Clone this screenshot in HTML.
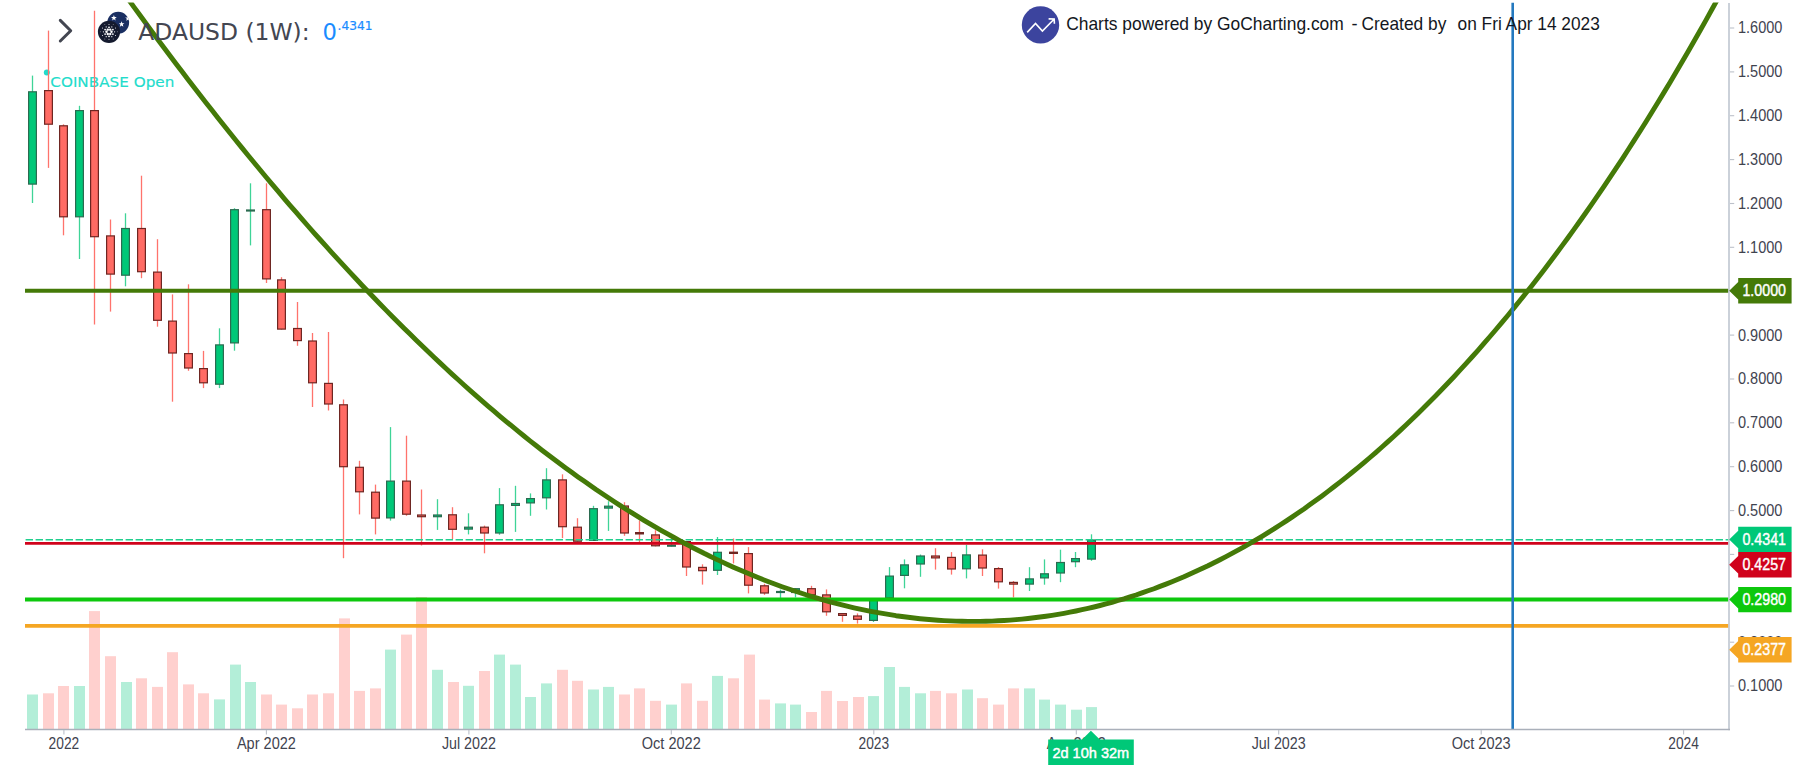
<!DOCTYPE html>
<html lang="en"><head><meta charset="utf-8"><title>ADAUSD (1W) chart</title>
<style>html,body{margin:0;padding:0;background:#fff;overflow:hidden}svg{display:block}</style></head>
<body>
<svg width="1797" height="771" viewBox="0 0 1797 771">
<defs><clipPath id="plot"><rect x="25" y="2.6" width="1704" height="727"/></clipPath></defs>
<rect x="0" y="0" width="1797" height="771" fill="#ffffff"/>
<g id="volume">
<rect x="27" y="694.5" width="11" height="34.8" fill="#b3eed8"/>
<rect x="43" y="693.3" width="11" height="36.0" fill="#ffd0ce"/>
<rect x="58" y="686.0" width="11" height="43.3" fill="#ffd0ce"/>
<rect x="74" y="686.0" width="11" height="43.3" fill="#b3eed8"/>
<rect x="89" y="611.1" width="11" height="118.2" fill="#ffd0ce"/>
<rect x="105" y="656.2" width="11" height="73.1" fill="#ffd0ce"/>
<rect x="121" y="682.0" width="11" height="47.3" fill="#b3eed8"/>
<rect x="136" y="678.3" width="11" height="51.0" fill="#ffd0ce"/>
<rect x="152" y="686.9" width="11" height="42.4" fill="#ffd0ce"/>
<rect x="167" y="652.2" width="11" height="77.1" fill="#ffd0ce"/>
<rect x="183" y="684.4" width="11" height="44.9" fill="#ffd0ce"/>
<rect x="198" y="693.3" width="11" height="36.0" fill="#ffd0ce"/>
<rect x="214" y="699.4" width="11" height="29.9" fill="#b3eed8"/>
<rect x="230" y="664.6" width="11" height="64.7" fill="#b3eed8"/>
<rect x="245" y="682.0" width="11" height="47.3" fill="#b3eed8"/>
<rect x="261" y="694.5" width="11" height="34.8" fill="#ffd0ce"/>
<rect x="276" y="704.6" width="11" height="24.7" fill="#ffd0ce"/>
<rect x="292" y="708.3" width="11" height="21.0" fill="#ffd0ce"/>
<rect x="307" y="694.5" width="11" height="34.8" fill="#ffd0ce"/>
<rect x="323" y="693.3" width="11" height="36.0" fill="#ffd0ce"/>
<rect x="339" y="618.4" width="11" height="110.9" fill="#ffd0ce"/>
<rect x="354" y="690.9" width="11" height="38.4" fill="#ffd0ce"/>
<rect x="370" y="688.4" width="11" height="40.9" fill="#ffd0ce"/>
<rect x="385" y="649.6" width="11" height="79.7" fill="#b3eed8"/>
<rect x="401" y="634.6" width="11" height="94.7" fill="#ffd0ce"/>
<rect x="416" y="597.0" width="11" height="132.3" fill="#ffd0ce"/>
<rect x="432" y="669.8" width="11" height="59.5" fill="#b3eed8"/>
<rect x="448" y="682.0" width="11" height="47.3" fill="#ffd0ce"/>
<rect x="463" y="685.8" width="11" height="43.5" fill="#b3eed8"/>
<rect x="479" y="671.0" width="11" height="58.3" fill="#ffd0ce"/>
<rect x="494" y="654.6" width="11" height="74.7" fill="#b3eed8"/>
<rect x="510" y="664.6" width="11" height="64.7" fill="#b3eed8"/>
<rect x="525" y="697.0" width="11" height="32.3" fill="#b3eed8"/>
<rect x="541" y="683.4" width="11" height="45.9" fill="#b3eed8"/>
<rect x="557" y="669.8" width="11" height="59.5" fill="#ffd0ce"/>
<rect x="572" y="680.8" width="11" height="48.5" fill="#ffd0ce"/>
<rect x="588" y="689.5" width="11" height="39.8" fill="#b3eed8"/>
<rect x="603" y="686.9" width="11" height="42.4" fill="#b3eed8"/>
<rect x="619" y="694.5" width="11" height="34.8" fill="#ffd0ce"/>
<rect x="634" y="688.4" width="11" height="40.9" fill="#ffd0ce"/>
<rect x="650" y="700.8" width="11" height="28.5" fill="#ffd0ce"/>
<rect x="666" y="704.6" width="11" height="24.7" fill="#b3eed8"/>
<rect x="681" y="683.4" width="11" height="45.9" fill="#ffd0ce"/>
<rect x="697" y="700.8" width="11" height="28.5" fill="#ffd0ce"/>
<rect x="712" y="675.9" width="11" height="53.4" fill="#b3eed8"/>
<rect x="728" y="678.3" width="11" height="51.0" fill="#ffd0ce"/>
<rect x="744" y="654.6" width="11" height="74.7" fill="#ffd0ce"/>
<rect x="759" y="699.6" width="11" height="29.7" fill="#ffd0ce"/>
<rect x="775" y="703.4" width="11" height="25.9" fill="#b3eed8"/>
<rect x="790" y="704.6" width="11" height="24.7" fill="#b3eed8"/>
<rect x="806" y="712.0" width="11" height="17.3" fill="#ffd0ce"/>
<rect x="821" y="690.9" width="11" height="38.4" fill="#ffd0ce"/>
<rect x="837" y="701.0" width="11" height="28.3" fill="#ffd0ce"/>
<rect x="853" y="697.0" width="11" height="32.3" fill="#ffd0ce"/>
<rect x="868" y="696.1" width="11" height="33.2" fill="#b3eed8"/>
<rect x="884" y="667.0" width="11" height="62.3" fill="#b3eed8"/>
<rect x="899" y="686.9" width="11" height="42.4" fill="#b3eed8"/>
<rect x="915" y="693.3" width="11" height="36.0" fill="#b3eed8"/>
<rect x="930" y="690.9" width="11" height="38.4" fill="#ffd0ce"/>
<rect x="946" y="693.3" width="11" height="36.0" fill="#ffd0ce"/>
<rect x="962" y="689.5" width="11" height="39.8" fill="#b3eed8"/>
<rect x="977" y="698.2" width="11" height="31.1" fill="#ffd0ce"/>
<rect x="993" y="704.6" width="11" height="24.7" fill="#ffd0ce"/>
<rect x="1008" y="688.4" width="11" height="40.9" fill="#ffd0ce"/>
<rect x="1024" y="688.4" width="11" height="40.9" fill="#b3eed8"/>
<rect x="1039" y="699.6" width="11" height="29.7" fill="#b3eed8"/>
<rect x="1055" y="704.6" width="11" height="24.7" fill="#b3eed8"/>
<rect x="1071" y="709.7" width="11" height="19.6" fill="#b3eed8"/>
<rect x="1086" y="707.1" width="11" height="22.2" fill="#b3eed8"/>
</g>
<circle cx="46.8" cy="72.5" r="3" fill="#22dccb"/>
<text x="50.3" y="86.8" font-family='"DejaVu Sans", "Liberation Sans", sans-serif' font-size="14.8" fill="#22dccb" stroke="#22dccb" stroke-width="0.15" textLength="124" lengthAdjust="spacingAndGlyphs">COINBASE Open</text>
<g id="candles">
<line x1="32.50" y1="75.6" x2="32.50" y2="203.0" stroke="#3fd497" stroke-width="1.3"/>
<rect x="28.60" y="91.8" width="7.8" height="92.3" fill="#00c878" stroke="#2b6b50" stroke-width="1.2"/>
<line x1="48.50" y1="30.6" x2="48.50" y2="167.9" stroke="#ff736c" stroke-width="1.3"/>
<rect x="44.60" y="90.6" width="7.8" height="33.6" fill="#ff6b64" stroke="#6e2622" stroke-width="1.2"/>
<line x1="63.50" y1="124.3" x2="63.50" y2="235.3" stroke="#ff736c" stroke-width="1.3"/>
<rect x="59.60" y="125.8" width="7.8" height="91.0" fill="#ff6b64" stroke="#6e2622" stroke-width="1.2"/>
<line x1="79.50" y1="105.8" x2="79.50" y2="259.0" stroke="#3fd497" stroke-width="1.3"/>
<rect x="75.60" y="110.6" width="7.8" height="106.2" fill="#00c878" stroke="#2b6b50" stroke-width="1.2"/>
<line x1="94.50" y1="10.7" x2="94.50" y2="324.4" stroke="#ff736c" stroke-width="1.3"/>
<rect x="90.60" y="110.6" width="7.8" height="126.1" fill="#ff6b64" stroke="#6e2622" stroke-width="1.2"/>
<line x1="110.50" y1="219.5" x2="110.50" y2="311.6" stroke="#ff736c" stroke-width="1.3"/>
<rect x="106.60" y="235.9" width="7.8" height="38.2" fill="#ff6b64" stroke="#6e2622" stroke-width="1.2"/>
<line x1="125.50" y1="213.3" x2="125.50" y2="286.3" stroke="#3fd497" stroke-width="1.3"/>
<rect x="121.60" y="228.5" width="7.8" height="46.7" fill="#00c878" stroke="#2b6b50" stroke-width="1.2"/>
<line x1="141.50" y1="175.7" x2="141.50" y2="278.2" stroke="#ff736c" stroke-width="1.3"/>
<rect x="137.60" y="228.5" width="7.8" height="43.2" fill="#ff6b64" stroke="#6e2622" stroke-width="1.2"/>
<line x1="157.50" y1="239.2" x2="157.50" y2="326.7" stroke="#ff736c" stroke-width="1.3"/>
<rect x="153.60" y="272.1" width="7.8" height="48.2" fill="#ff6b64" stroke="#6e2622" stroke-width="1.2"/>
<line x1="172.50" y1="294.4" x2="172.50" y2="401.7" stroke="#ff736c" stroke-width="1.3"/>
<rect x="168.60" y="321.1" width="7.8" height="31.9" fill="#ff6b64" stroke="#6e2622" stroke-width="1.2"/>
<line x1="188.50" y1="284.3" x2="188.50" y2="370.8" stroke="#ff736c" stroke-width="1.3"/>
<rect x="184.60" y="353.6" width="7.8" height="14.4" fill="#ff6b64" stroke="#6e2622" stroke-width="1.2"/>
<line x1="203.50" y1="350.9" x2="203.50" y2="388.1" stroke="#ff736c" stroke-width="1.3"/>
<rect x="199.60" y="368.6" width="7.8" height="14.2" fill="#ff6b64" stroke="#6e2622" stroke-width="1.2"/>
<line x1="219.50" y1="328.3" x2="219.50" y2="388.1" stroke="#3fd497" stroke-width="1.3"/>
<rect x="215.60" y="344.9" width="7.8" height="39.3" fill="#00c878" stroke="#2b6b50" stroke-width="1.2"/>
<line x1="234.50" y1="208.2" x2="234.50" y2="350.7" stroke="#3fd497" stroke-width="1.3"/>
<rect x="230.60" y="209.7" width="7.8" height="133.2" fill="#00c878" stroke="#2b6b50" stroke-width="1.2"/>
<line x1="250.50" y1="183.3" x2="250.50" y2="245.4" stroke="#3fd497" stroke-width="1.3"/>
<rect x="246.00" y="209.4" width="9" height="2.2" fill="#2b6b50"/>
<line x1="266.50" y1="183.3" x2="266.50" y2="283.0" stroke="#ff736c" stroke-width="1.3"/>
<rect x="262.60" y="209.7" width="7.8" height="69.2" fill="#ff6b64" stroke="#6e2622" stroke-width="1.2"/>
<line x1="281.50" y1="277.2" x2="281.50" y2="329.7" stroke="#ff736c" stroke-width="1.3"/>
<rect x="277.60" y="279.9" width="7.8" height="49.2" fill="#ff6b64" stroke="#6e2622" stroke-width="1.2"/>
<line x1="297.50" y1="302.0" x2="297.50" y2="345.8" stroke="#ff736c" stroke-width="1.3"/>
<rect x="293.60" y="328.5" width="7.8" height="12.1" fill="#ff6b64" stroke="#6e2622" stroke-width="1.2"/>
<line x1="312.50" y1="333.0" x2="312.50" y2="407.0" stroke="#ff736c" stroke-width="1.3"/>
<rect x="308.60" y="341.0" width="7.8" height="41.8" fill="#ff6b64" stroke="#6e2622" stroke-width="1.2"/>
<line x1="328.50" y1="332.0" x2="328.50" y2="410.5" stroke="#ff736c" stroke-width="1.3"/>
<rect x="324.60" y="383.4" width="7.8" height="20.6" fill="#ff6b64" stroke="#6e2622" stroke-width="1.2"/>
<line x1="343.50" y1="399.5" x2="343.50" y2="558.2" stroke="#ff736c" stroke-width="1.3"/>
<rect x="339.60" y="404.8" width="7.8" height="61.9" fill="#ff6b64" stroke="#6e2622" stroke-width="1.2"/>
<line x1="359.50" y1="460.8" x2="359.50" y2="514.4" stroke="#ff736c" stroke-width="1.3"/>
<rect x="355.60" y="467.3" width="7.8" height="24.5" fill="#ff6b64" stroke="#6e2622" stroke-width="1.2"/>
<line x1="375.50" y1="484.6" x2="375.50" y2="534.4" stroke="#ff736c" stroke-width="1.3"/>
<rect x="371.60" y="492.2" width="7.8" height="25.9" fill="#ff6b64" stroke="#6e2622" stroke-width="1.2"/>
<line x1="390.50" y1="427.1" x2="390.50" y2="520.6" stroke="#3fd497" stroke-width="1.3"/>
<rect x="386.60" y="481.1" width="7.8" height="36.8" fill="#00c878" stroke="#2b6b50" stroke-width="1.2"/>
<line x1="406.50" y1="435.7" x2="406.50" y2="515.8" stroke="#ff736c" stroke-width="1.3"/>
<rect x="402.60" y="481.1" width="7.8" height="33.1" fill="#ff6b64" stroke="#6e2622" stroke-width="1.2"/>
<line x1="421.50" y1="489.5" x2="421.50" y2="545.5" stroke="#ff736c" stroke-width="1.3"/>
<rect x="417.60" y="515.0" width="7.8" height="1.7" fill="#ff6b64" stroke="#6e2622" stroke-width="1.2"/>
<line x1="437.50" y1="499.2" x2="437.50" y2="529.9" stroke="#3fd497" stroke-width="1.3"/>
<rect x="433.60" y="515.0" width="7.8" height="1.7" fill="#00c878" stroke="#2b6b50" stroke-width="1.2"/>
<line x1="452.50" y1="507.2" x2="452.50" y2="539.1" stroke="#ff736c" stroke-width="1.3"/>
<rect x="448.60" y="514.8" width="7.8" height="14.5" fill="#ff6b64" stroke="#6e2622" stroke-width="1.2"/>
<line x1="468.50" y1="513.3" x2="468.50" y2="534.4" stroke="#3fd497" stroke-width="1.3"/>
<rect x="464.60" y="527.2" width="7.8" height="1.9" fill="#00c878" stroke="#2b6b50" stroke-width="1.2"/>
<line x1="484.50" y1="525.6" x2="484.50" y2="553.3" stroke="#ff736c" stroke-width="1.3"/>
<rect x="480.60" y="527.2" width="7.8" height="5.8" fill="#ff6b64" stroke="#6e2622" stroke-width="1.2"/>
<line x1="499.50" y1="488.1" x2="499.50" y2="534.8" stroke="#3fd497" stroke-width="1.3"/>
<rect x="495.60" y="504.8" width="7.8" height="28.2" fill="#00c878" stroke="#2b6b50" stroke-width="1.2"/>
<line x1="515.50" y1="485.8" x2="515.50" y2="531.9" stroke="#3fd497" stroke-width="1.3"/>
<rect x="511.60" y="503.5" width="7.8" height="1.9" fill="#00c878" stroke="#2b6b50" stroke-width="1.2"/>
<line x1="530.50" y1="493.4" x2="530.50" y2="515.8" stroke="#3fd497" stroke-width="1.3"/>
<rect x="526.60" y="498.6" width="7.8" height="4.3" fill="#00c878" stroke="#2b6b50" stroke-width="1.2"/>
<line x1="546.50" y1="468.2" x2="546.50" y2="509.5" stroke="#3fd497" stroke-width="1.3"/>
<rect x="542.60" y="479.9" width="7.8" height="17.9" fill="#00c878" stroke="#2b6b50" stroke-width="1.2"/>
<line x1="562.50" y1="474.3" x2="562.50" y2="538.1" stroke="#ff736c" stroke-width="1.3"/>
<rect x="558.60" y="479.9" width="7.8" height="46.8" fill="#ff6b64" stroke="#6e2622" stroke-width="1.2"/>
<line x1="577.50" y1="518.2" x2="577.50" y2="541.8" stroke="#ff736c" stroke-width="1.3"/>
<rect x="573.60" y="527.2" width="7.8" height="14.0" fill="#ff6b64" stroke="#6e2622" stroke-width="1.2"/>
<line x1="593.50" y1="505.8" x2="593.50" y2="541.0" stroke="#3fd497" stroke-width="1.3"/>
<rect x="589.60" y="508.7" width="7.8" height="31.7" fill="#00c878" stroke="#2b6b50" stroke-width="1.2"/>
<line x1="608.50" y1="501.2" x2="608.50" y2="530.9" stroke="#3fd497" stroke-width="1.3"/>
<rect x="604.60" y="506.2" width="7.8" height="1.9" fill="#00c878" stroke="#2b6b50" stroke-width="1.2"/>
<line x1="624.50" y1="502.2" x2="624.50" y2="535.8" stroke="#ff736c" stroke-width="1.3"/>
<rect x="620.60" y="506.0" width="7.8" height="27.0" fill="#ff6b64" stroke="#6e2622" stroke-width="1.2"/>
<line x1="639.50" y1="520.4" x2="639.50" y2="542.2" stroke="#ff736c" stroke-width="1.3"/>
<rect x="635.00" y="532.0" width="9" height="2.5" fill="#6e2622"/>
<line x1="655.50" y1="530.2" x2="655.50" y2="546.4" stroke="#ff736c" stroke-width="1.3"/>
<rect x="651.60" y="534.9" width="7.8" height="10.9" fill="#ff6b64" stroke="#6e2622" stroke-width="1.2"/>
<line x1="671.50" y1="539.0" x2="671.50" y2="546.6" stroke="#3fd497" stroke-width="1.3"/>
<rect x="667.00" y="544.6" width="9" height="2.2" fill="#2b6b50"/>
<line x1="686.50" y1="541.0" x2="686.50" y2="576.0" stroke="#ff736c" stroke-width="1.3"/>
<rect x="682.60" y="541.6" width="7.8" height="25.4" fill="#ff6b64" stroke="#6e2622" stroke-width="1.2"/>
<line x1="702.50" y1="564.3" x2="702.50" y2="584.6" stroke="#ff736c" stroke-width="1.3"/>
<rect x="698.60" y="567.4" width="7.8" height="3.3" fill="#ff6b64" stroke="#6e2622" stroke-width="1.2"/>
<line x1="717.50" y1="537.0" x2="717.50" y2="575.0" stroke="#3fd497" stroke-width="1.3"/>
<rect x="713.60" y="552.3" width="7.8" height="18.0" fill="#00c878" stroke="#2b6b50" stroke-width="1.2"/>
<line x1="733.50" y1="538.5" x2="733.50" y2="563.4" stroke="#ff736c" stroke-width="1.3"/>
<rect x="729.00" y="551.6" width="9" height="2.4" fill="#6e2622"/>
<line x1="748.50" y1="547.1" x2="748.50" y2="593.4" stroke="#ff736c" stroke-width="1.3"/>
<rect x="744.60" y="553.6" width="7.8" height="31.6" fill="#ff6b64" stroke="#6e2622" stroke-width="1.2"/>
<line x1="764.50" y1="583.8" x2="764.50" y2="594.9" stroke="#ff736c" stroke-width="1.3"/>
<rect x="760.60" y="585.8" width="7.8" height="7.2" fill="#ff6b64" stroke="#6e2622" stroke-width="1.2"/>
<line x1="780.50" y1="589.6" x2="780.50" y2="597.9" stroke="#3fd497" stroke-width="1.3"/>
<rect x="776.00" y="590.9" width="9" height="2.2" fill="#2b6b50"/>
<line x1="795.50" y1="588.1" x2="795.50" y2="597.4" stroke="#3fd497" stroke-width="1.3"/>
<rect x="791.60" y="588.7" width="7.8" height="3.8" fill="#00c878" stroke="#2b6b50" stroke-width="1.2"/>
<line x1="811.50" y1="585.8" x2="811.50" y2="595.4" stroke="#ff736c" stroke-width="1.3"/>
<rect x="807.60" y="588.7" width="7.8" height="6.1" fill="#ff6b64" stroke="#6e2622" stroke-width="1.2"/>
<line x1="826.50" y1="589.4" x2="826.50" y2="615.8" stroke="#ff736c" stroke-width="1.3"/>
<rect x="822.60" y="594.9" width="7.8" height="16.9" fill="#ff6b64" stroke="#6e2622" stroke-width="1.2"/>
<line x1="842.50" y1="613.0" x2="842.50" y2="621.8" stroke="#ff736c" stroke-width="1.3"/>
<rect x="838.60" y="613.6" width="7.8" height="1.8" fill="#ff6b64" stroke="#6e2622" stroke-width="1.2"/>
<line x1="857.50" y1="613.4" x2="857.50" y2="623.6" stroke="#ff736c" stroke-width="1.3"/>
<rect x="853.60" y="616.0" width="7.8" height="3.3" fill="#ff6b64" stroke="#6e2622" stroke-width="1.2"/>
<line x1="873.50" y1="598.5" x2="873.50" y2="622.0" stroke="#3fd497" stroke-width="1.3"/>
<rect x="869.60" y="599.1" width="7.8" height="21.3" fill="#00c878" stroke="#2b6b50" stroke-width="1.2"/>
<line x1="889.50" y1="567.1" x2="889.50" y2="598.4" stroke="#3fd497" stroke-width="1.3"/>
<rect x="885.60" y="576.1" width="7.8" height="21.7" fill="#00c878" stroke="#2b6b50" stroke-width="1.2"/>
<line x1="904.50" y1="559.4" x2="904.50" y2="588.3" stroke="#3fd497" stroke-width="1.3"/>
<rect x="900.60" y="564.9" width="7.8" height="10.5" fill="#00c878" stroke="#2b6b50" stroke-width="1.2"/>
<line x1="920.50" y1="554.5" x2="920.50" y2="576.8" stroke="#3fd497" stroke-width="1.3"/>
<rect x="916.60" y="556.0" width="7.8" height="8.0" fill="#00c878" stroke="#2b6b50" stroke-width="1.2"/>
<line x1="935.50" y1="548.2" x2="935.50" y2="569.6" stroke="#ff736c" stroke-width="1.3"/>
<rect x="931.60" y="556.0" width="7.8" height="1.9" fill="#ff6b64" stroke="#6e2622" stroke-width="1.2"/>
<line x1="951.50" y1="552.1" x2="951.50" y2="574.6" stroke="#ff736c" stroke-width="1.3"/>
<rect x="947.60" y="557.4" width="7.8" height="11.6" fill="#ff6b64" stroke="#6e2622" stroke-width="1.2"/>
<line x1="966.50" y1="544.8" x2="966.50" y2="578.4" stroke="#3fd497" stroke-width="1.3"/>
<rect x="962.60" y="554.9" width="7.8" height="13.9" fill="#00c878" stroke="#2b6b50" stroke-width="1.2"/>
<line x1="982.50" y1="549.3" x2="982.50" y2="576.0" stroke="#ff736c" stroke-width="1.3"/>
<rect x="978.60" y="555.1" width="7.8" height="12.9" fill="#ff6b64" stroke="#6e2622" stroke-width="1.2"/>
<line x1="998.50" y1="567.0" x2="998.50" y2="588.6" stroke="#ff736c" stroke-width="1.3"/>
<rect x="994.60" y="568.6" width="7.8" height="13.2" fill="#ff6b64" stroke="#6e2622" stroke-width="1.2"/>
<line x1="1013.50" y1="581.0" x2="1013.50" y2="597.4" stroke="#ff736c" stroke-width="1.3"/>
<rect x="1009.60" y="582.4" width="7.8" height="1.7" fill="#ff6b64" stroke="#6e2622" stroke-width="1.2"/>
<line x1="1029.50" y1="567.2" x2="1029.50" y2="591.0" stroke="#3fd497" stroke-width="1.3"/>
<rect x="1025.60" y="578.9" width="7.8" height="5.2" fill="#00c878" stroke="#2b6b50" stroke-width="1.2"/>
<line x1="1044.50" y1="559.4" x2="1044.50" y2="584.7" stroke="#3fd497" stroke-width="1.3"/>
<rect x="1040.60" y="573.8" width="7.8" height="4.1" fill="#00c878" stroke="#2b6b50" stroke-width="1.2"/>
<line x1="1060.50" y1="549.7" x2="1060.50" y2="582.2" stroke="#3fd497" stroke-width="1.3"/>
<rect x="1056.60" y="562.5" width="7.8" height="10.5" fill="#00c878" stroke="#2b6b50" stroke-width="1.2"/>
<line x1="1075.50" y1="552.0" x2="1075.50" y2="567.2" stroke="#3fd497" stroke-width="1.3"/>
<rect x="1071.60" y="558.6" width="7.8" height="3.1" fill="#00c878" stroke="#2b6b50" stroke-width="1.2"/>
<line x1="1091.50" y1="534.3" x2="1091.50" y2="560.8" stroke="#3fd497" stroke-width="1.3"/>
<rect x="1087.60" y="540.0" width="7.8" height="19.1" fill="#00c878" stroke="#2b6b50" stroke-width="1.2"/>
</g>
<g id="levels">
<line x1="25" y1="290.8" x2="1729" y2="290.8" stroke="#447a08" stroke-width="4"/>
<line x1="25" y1="599.5" x2="1729" y2="599.5" stroke="#0dc80d" stroke-width="4.1"/>
<line x1="25" y1="625.9" x2="1729" y2="625.9" stroke="#f5a623" stroke-width="3.9"/>
<line x1="25" y1="543.3" x2="1729" y2="543.3" stroke="#d0021b" stroke-width="2.8"/>
<line x1="25.6" y1="539.7" x2="1729" y2="539.7" stroke="#20cf8e" stroke-width="1.6" stroke-dasharray="7.4 2.6"/>
</g>
<path d="M110.0 -26.3 L116.0 -17.9 L122.0 -9.5 L128.0 -1.2 L134.0 7.1 L140.0 15.3 L146.0 23.5 L152.0 31.6 L158.0 39.7 L164.0 47.7 L170.0 55.7 L176.0 63.7 L182.0 71.6 L188.0 79.4 L194.0 87.2 L200.0 95.0 L206.0 102.7 L212.0 110.3 L218.0 117.9 L224.0 125.5 L230.0 133.0 L236.0 140.5 L242.0 147.9 L248.0 155.2 L254.0 162.5 L260.0 169.8 L266.0 177.0 L272.0 184.1 L278.0 191.2 L284.0 198.3 L290.0 205.3 L296.0 212.2 L302.0 219.1 L308.0 226.0 L314.0 232.8 L320.0 239.5 L326.0 246.2 L332.0 252.8 L338.0 259.4 L344.0 265.9 L350.0 272.4 L356.0 278.8 L362.0 285.2 L368.0 291.5 L374.0 297.8 L380.0 304.0 L386.0 310.1 L392.0 316.2 L398.0 322.2 L404.0 328.2 L410.0 334.1 L416.0 340.0 L422.0 345.8 L428.0 351.6 L434.0 357.3 L440.0 362.9 L446.0 368.5 L452.0 374.1 L458.0 379.5 L464.0 385.0 L470.0 390.3 L476.0 395.6 L482.0 400.9 L488.0 406.1 L494.0 411.2 L500.0 416.3 L506.0 421.3 L512.0 426.2 L518.0 431.1 L524.0 436.0 L530.0 440.8 L536.0 445.5 L542.0 450.2 L548.0 454.8 L554.0 459.3 L560.0 463.8 L566.0 468.2 L572.0 472.6 L578.0 476.9 L584.0 481.1 L590.0 485.3 L596.0 489.5 L602.0 493.5 L608.0 497.5 L614.0 501.5 L620.0 505.4 L626.0 509.2 L632.0 512.9 L638.0 516.6 L644.0 520.3 L650.0 523.9 L656.0 527.4 L662.0 530.8 L668.0 534.2 L674.0 537.5 L680.0 540.8 L686.0 544.0 L692.0 547.2 L698.0 550.2 L704.0 553.3 L710.0 556.2 L716.0 559.1 L722.0 561.9 L728.0 564.7 L734.0 567.4 L740.0 570.0 L746.0 572.6 L752.0 575.1 L758.0 577.5 L764.0 579.9 L770.0 582.2 L776.0 584.5 L782.0 586.7 L788.0 588.8 L794.0 590.8 L800.0 592.8 L806.0 594.8 L812.0 596.6 L818.0 598.4 L824.0 600.1 L830.0 601.8 L836.0 603.4 L842.0 604.9 L848.0 606.4 L854.0 607.8 L860.0 609.1 L866.0 610.4 L872.0 611.6 L878.0 612.7 L884.0 613.7 L890.0 614.7 L896.0 615.7 L902.0 616.5 L908.0 617.3 L914.0 618.0 L920.0 618.7 L926.0 619.3 L932.0 619.8 L938.0 620.2 L944.0 620.6 L950.0 620.9 L956.0 621.1 L962.0 621.3 L968.0 621.4 L974.0 621.4 L980.0 621.4 L986.0 621.3 L992.0 621.1 L998.0 620.8 L1004.0 620.5 L1010.0 620.1 L1016.0 619.6 L1022.0 619.1 L1028.0 618.5 L1034.0 617.8 L1040.0 617.0 L1046.0 616.2 L1052.0 615.3 L1058.0 614.3 L1064.0 613.3 L1070.0 612.2 L1076.0 611.0 L1082.0 609.7 L1088.0 608.4 L1094.0 607.0 L1100.0 605.5 L1106.0 603.9 L1112.0 602.3 L1118.0 600.5 L1124.0 598.8 L1130.0 596.9 L1136.0 595.0 L1142.0 592.9 L1148.0 590.8 L1154.0 588.7 L1160.0 586.4 L1166.0 584.1 L1172.0 581.7 L1178.0 579.2 L1184.0 576.7 L1190.0 574.0 L1196.0 571.3 L1202.0 568.5 L1208.0 565.7 L1214.0 562.7 L1220.0 559.7 L1226.0 556.6 L1232.0 553.4 L1238.0 550.1 L1244.0 546.8 L1250.0 543.4 L1256.0 539.9 L1262.0 536.3 L1268.0 532.6 L1274.0 528.9 L1280.0 525.0 L1286.0 521.1 L1292.0 517.1 L1298.0 513.0 L1304.0 508.9 L1310.0 504.6 L1316.0 500.3 L1322.0 495.9 L1328.0 491.4 L1334.0 486.8 L1340.0 482.1 L1346.0 477.3 L1352.0 472.5 L1358.0 467.6 L1364.0 462.6 L1370.0 457.5 L1376.0 452.3 L1382.0 447.0 L1388.0 441.6 L1394.0 436.2 L1400.0 430.6 L1406.0 425.0 L1412.0 419.3 L1418.0 413.4 L1424.0 407.5 L1430.0 401.5 L1436.0 395.5 L1442.0 389.3 L1448.0 383.0 L1454.0 376.7 L1460.0 370.2 L1466.0 363.6 L1472.0 357.0 L1478.0 350.3 L1484.0 343.4 L1490.0 336.5 L1496.0 329.5 L1502.0 322.4 L1508.0 315.2 L1514.0 307.9 L1520.0 300.5 L1526.0 293.0 L1532.0 285.4 L1538.0 277.7 L1544.0 269.9 L1550.0 262.0 L1556.0 254.0 L1562.0 245.9 L1568.0 237.7 L1574.0 229.4 L1580.0 221.0 L1586.0 212.5 L1592.0 203.9 L1598.0 195.1 L1604.0 186.3 L1610.0 177.4 L1616.0 168.4 L1622.0 159.3 L1628.0 150.0 L1634.0 140.7 L1640.0 131.2 L1646.0 121.7 L1652.0 112.0 L1658.0 102.2 L1664.0 92.4 L1670.0 82.4 L1676.0 72.3 L1682.0 62.0 L1688.0 51.7 L1694.0 41.3 L1700.0 30.7 L1706.0 20.1 L1712.0 9.3 L1718.0 -1.6 L1724.0 -12.6 L1730.0 -23.7 L1736.0 -35.0" fill="none" stroke="#447a08" stroke-width="4.9" stroke-linejoin="round" clip-path="url(#plot)"/>
<path d="M60.3 20.4 L70.7 30.7 L60.3 41.0" fill="none" stroke="#434651" stroke-width="3" stroke-linecap="round" stroke-linejoin="round"/>
<g id="pair-icons">
<circle cx="118.2" cy="22.7" r="10.9" fill="#1a2f62"/>
<clipPath id="usd"><circle cx="118.2" cy="22.7" r="10.9"/></clipPath>
<g clip-path="url(#usd)"><polygon points="113.90,15.00 114.64,16.98 116.75,17.07 115.10,18.39 115.66,20.43 113.90,19.26 112.14,20.43 112.70,18.39 111.05,17.07 113.16,16.98" fill="#ffffff"/><polygon points="121.60,21.20 122.34,23.18 124.45,23.27 122.80,24.59 123.36,26.63 121.60,25.46 119.84,26.63 120.40,24.59 118.75,23.27 120.86,23.18" fill="#ffffff"/><polygon points="128.00,15.40 128.74,17.38 130.85,17.47 129.20,18.79 129.76,20.83 128.00,19.66 126.24,20.83 126.80,18.79 125.15,17.47 127.26,17.38" fill="#ffffff"/></g>
<circle cx="109" cy="31.8" r="11.1" fill="#141a2e"/>
<circle cx="111.50" cy="31.80" r="1.2" fill="#ffffff"/>
<circle cx="110.25" cy="33.97" r="1.2" fill="#ffffff"/>
<circle cx="107.75" cy="33.97" r="1.2" fill="#ffffff"/>
<circle cx="106.50" cy="31.80" r="1.2" fill="#ffffff"/>
<circle cx="107.75" cy="29.63" r="1.2" fill="#ffffff"/>
<circle cx="110.25" cy="29.63" r="1.2" fill="#ffffff"/>
<circle cx="112.90" cy="34.05" r="0.9" fill="#ffffff"/>
<circle cx="109.00" cy="36.30" r="0.9" fill="#ffffff"/>
<circle cx="105.10" cy="34.05" r="0.9" fill="#ffffff"/>
<circle cx="105.10" cy="29.55" r="0.9" fill="#ffffff"/>
<circle cx="109.00" cy="27.30" r="0.9" fill="#ffffff"/>
<circle cx="112.90" cy="29.55" r="0.9" fill="#ffffff"/>
<circle cx="114.60" cy="31.80" r="0.6" fill="#ffffff"/>
<circle cx="111.80" cy="36.65" r="0.6" fill="#ffffff"/>
<circle cx="106.20" cy="36.65" r="0.6" fill="#ffffff"/>
<circle cx="103.40" cy="31.80" r="0.6" fill="#ffffff"/>
<circle cx="106.20" cy="26.95" r="0.6" fill="#ffffff"/>
<circle cx="111.80" cy="26.95" r="0.6" fill="#ffffff"/>
<circle cx="115.41" cy="35.50" r="0.5" fill="#ffffff"/>
<circle cx="109.00" cy="39.20" r="0.5" fill="#ffffff"/>
<circle cx="102.59" cy="35.50" r="0.5" fill="#ffffff"/>
<circle cx="102.59" cy="28.10" r="0.5" fill="#ffffff"/>
<circle cx="109.00" cy="24.40" r="0.5" fill="#ffffff"/>
<circle cx="115.41" cy="28.10" r="0.5" fill="#ffffff"/>
<circle cx="117.30" cy="31.80" r="0.4" fill="#ffffff"/>
<circle cx="113.15" cy="38.99" r="0.4" fill="#ffffff"/>
<circle cx="104.85" cy="38.99" r="0.4" fill="#ffffff"/>
<circle cx="100.70" cy="31.80" r="0.4" fill="#ffffff"/>
<circle cx="104.85" cy="24.61" r="0.4" fill="#ffffff"/>
<circle cx="113.15" cy="24.61" r="0.4" fill="#ffffff"/>
</g>
<text x="138.3" y="39.8" font-family='"DejaVu Sans", "Liberation Sans", sans-serif' font-size="22.7" fill="#434651" textLength="171.3" lengthAdjust="spacingAndGlyphs">ADAUSD (1W):</text>
<text x="322.6" y="39.8" font-family='"DejaVu Sans", "Liberation Sans", sans-serif' font-size="22.7" fill="#1a8cff">0</text>
<text x="337.6" y="30" font-family='"DejaVu Sans", "Liberation Sans", sans-serif' font-size="11.8" fill="#1a8cff" stroke="#1a8cff" stroke-width="0.2" textLength="35" lengthAdjust="spacingAndGlyphs">.4341</text>
<line x1="1512.7" y1="2.8" x2="1512.7" y2="729" stroke="#2479bf" stroke-width="2.6"/>
<line x1="1729" y1="3" x2="1729" y2="730.2" stroke="#c6ccd5" stroke-width="1.8"/>
<line x1="25" y1="729.4" x2="1730" y2="729.4" stroke="#aab0ba" stroke-width="1.5"/>
<line x1="1730" y1="686.0" x2="1734.2" y2="686.0" stroke="#bcc1ca" stroke-width="1.1"/>
<text x="1738" y="691.4" font-family='"Liberation Sans", sans-serif' font-size="16" fill="#3f434f" textLength="44.4" lengthAdjust="spacingAndGlyphs">0.1000</text>
<line x1="1730" y1="642.2" x2="1734.2" y2="642.2" stroke="#bcc1ca" stroke-width="1.1"/>
<text x="1738" y="647.6" font-family='"Liberation Sans", sans-serif' font-size="16" fill="#3f434f" textLength="44.4" lengthAdjust="spacingAndGlyphs">0.2000</text>
<line x1="1730" y1="598.3" x2="1734.2" y2="598.3" stroke="#bcc1ca" stroke-width="1.1"/>
<text x="1738" y="603.7" font-family='"Liberation Sans", sans-serif' font-size="16" fill="#3f434f" textLength="44.4" lengthAdjust="spacingAndGlyphs">0.3000</text>
<line x1="1730" y1="554.4" x2="1734.2" y2="554.4" stroke="#bcc1ca" stroke-width="1.1"/>
<line x1="1730" y1="510.6" x2="1734.2" y2="510.6" stroke="#bcc1ca" stroke-width="1.1"/>
<text x="1738" y="516.0" font-family='"Liberation Sans", sans-serif' font-size="16" fill="#3f434f" textLength="44.4" lengthAdjust="spacingAndGlyphs">0.5000</text>
<line x1="1730" y1="466.7" x2="1734.2" y2="466.7" stroke="#bcc1ca" stroke-width="1.1"/>
<text x="1738" y="472.1" font-family='"Liberation Sans", sans-serif' font-size="16" fill="#3f434f" textLength="44.4" lengthAdjust="spacingAndGlyphs">0.6000</text>
<line x1="1730" y1="422.8" x2="1734.2" y2="422.8" stroke="#bcc1ca" stroke-width="1.1"/>
<text x="1738" y="428.2" font-family='"Liberation Sans", sans-serif' font-size="16" fill="#3f434f" textLength="44.4" lengthAdjust="spacingAndGlyphs">0.7000</text>
<line x1="1730" y1="379.0" x2="1734.2" y2="379.0" stroke="#bcc1ca" stroke-width="1.1"/>
<text x="1738" y="384.4" font-family='"Liberation Sans", sans-serif' font-size="16" fill="#3f434f" textLength="44.4" lengthAdjust="spacingAndGlyphs">0.8000</text>
<line x1="1730" y1="335.1" x2="1734.2" y2="335.1" stroke="#bcc1ca" stroke-width="1.1"/>
<text x="1738" y="340.5" font-family='"Liberation Sans", sans-serif' font-size="16" fill="#3f434f" textLength="44.4" lengthAdjust="spacingAndGlyphs">0.9000</text>
<line x1="1730" y1="291.2" x2="1734.2" y2="291.2" stroke="#bcc1ca" stroke-width="1.1"/>
<text x="1738" y="296.6" font-family='"Liberation Sans", sans-serif' font-size="16" fill="#3f434f" textLength="44.4" lengthAdjust="spacingAndGlyphs">1.0000</text>
<line x1="1730" y1="247.3" x2="1734.2" y2="247.3" stroke="#bcc1ca" stroke-width="1.1"/>
<text x="1738" y="252.8" font-family='"Liberation Sans", sans-serif' font-size="16" fill="#3f434f" textLength="44.4" lengthAdjust="spacingAndGlyphs">1.1000</text>
<line x1="1730" y1="203.5" x2="1734.2" y2="203.5" stroke="#bcc1ca" stroke-width="1.1"/>
<text x="1738" y="208.9" font-family='"Liberation Sans", sans-serif' font-size="16" fill="#3f434f" textLength="44.4" lengthAdjust="spacingAndGlyphs">1.2000</text>
<line x1="1730" y1="159.6" x2="1734.2" y2="159.6" stroke="#bcc1ca" stroke-width="1.1"/>
<text x="1738" y="165.0" font-family='"Liberation Sans", sans-serif' font-size="16" fill="#3f434f" textLength="44.4" lengthAdjust="spacingAndGlyphs">1.3000</text>
<line x1="1730" y1="115.7" x2="1734.2" y2="115.7" stroke="#bcc1ca" stroke-width="1.1"/>
<text x="1738" y="121.1" font-family='"Liberation Sans", sans-serif' font-size="16" fill="#3f434f" textLength="44.4" lengthAdjust="spacingAndGlyphs">1.4000</text>
<line x1="1730" y1="71.9" x2="1734.2" y2="71.9" stroke="#bcc1ca" stroke-width="1.1"/>
<text x="1738" y="77.3" font-family='"Liberation Sans", sans-serif' font-size="16" fill="#3f434f" textLength="44.4" lengthAdjust="spacingAndGlyphs">1.5000</text>
<line x1="1730" y1="28.0" x2="1734.2" y2="28.0" stroke="#bcc1ca" stroke-width="1.1"/>
<text x="1738" y="33.4" font-family='"Liberation Sans", sans-serif' font-size="16" fill="#3f434f" textLength="44.4" lengthAdjust="spacingAndGlyphs">1.6000</text>
<line x1="63.9" y1="730" x2="63.9" y2="734.6" stroke="#bcc1ca" stroke-width="1.1"/>
<text x="63.9" y="749.3" text-anchor="middle" font-family='"Liberation Sans", sans-serif' font-size="16" fill="#3f434f" textLength="30.6" lengthAdjust="spacingAndGlyphs">2022</text>
<line x1="266.4" y1="730" x2="266.4" y2="734.6" stroke="#bcc1ca" stroke-width="1.1"/>
<text x="266.4" y="749.3" text-anchor="middle" font-family='"Liberation Sans", sans-serif' font-size="16" fill="#3f434f" textLength="59" lengthAdjust="spacingAndGlyphs">Apr 2022</text>
<line x1="468.9" y1="730" x2="468.9" y2="734.6" stroke="#bcc1ca" stroke-width="1.1"/>
<text x="468.9" y="749.3" text-anchor="middle" font-family='"Liberation Sans", sans-serif' font-size="16" fill="#3f434f" textLength="54" lengthAdjust="spacingAndGlyphs">Jul 2022</text>
<line x1="671.3" y1="730" x2="671.3" y2="734.6" stroke="#bcc1ca" stroke-width="1.1"/>
<text x="671.3" y="749.3" text-anchor="middle" font-family='"Liberation Sans", sans-serif' font-size="16" fill="#3f434f" textLength="59" lengthAdjust="spacingAndGlyphs">Oct 2022</text>
<line x1="873.8" y1="730" x2="873.8" y2="734.6" stroke="#bcc1ca" stroke-width="1.1"/>
<text x="873.8" y="749.3" text-anchor="middle" font-family='"Liberation Sans", sans-serif' font-size="16" fill="#3f434f" textLength="30.6" lengthAdjust="spacingAndGlyphs">2023</text>
<line x1="1076.3" y1="730" x2="1076.3" y2="734.6" stroke="#bcc1ca" stroke-width="1.1"/>
<text x="1076.3" y="749.3" text-anchor="middle" font-family='"Liberation Sans", sans-serif' font-size="16" fill="#3f434f" textLength="59" lengthAdjust="spacingAndGlyphs">Apr 2023</text>
<line x1="1278.7" y1="730" x2="1278.7" y2="734.6" stroke="#bcc1ca" stroke-width="1.1"/>
<text x="1278.7" y="749.3" text-anchor="middle" font-family='"Liberation Sans", sans-serif' font-size="16" fill="#3f434f" textLength="54" lengthAdjust="spacingAndGlyphs">Jul 2023</text>
<line x1="1481.2" y1="730" x2="1481.2" y2="734.6" stroke="#bcc1ca" stroke-width="1.1"/>
<text x="1481.2" y="749.3" text-anchor="middle" font-family='"Liberation Sans", sans-serif' font-size="16" fill="#3f434f" textLength="59" lengthAdjust="spacingAndGlyphs">Oct 2023</text>
<line x1="1683.6" y1="730" x2="1683.6" y2="734.6" stroke="#bcc1ca" stroke-width="1.1"/>
<text x="1683.6" y="749.3" text-anchor="middle" font-family='"Liberation Sans", sans-serif' font-size="16" fill="#3f434f" textLength="30.6" lengthAdjust="spacingAndGlyphs">2024</text>
<path d="M1729.2 290.8 L1738.2 282.0 L1738.2 278.1 L1791.6 278.1 L1791.6 303.5 L1738.2 303.5 L1738.2 299.6 Z" fill="#447a08"/>
<text x="1742.4" y="296.2" font-family='"Liberation Sans", sans-serif' font-size="15.6" fill="#ffffff" stroke="#ffffff" stroke-width="0.4" textLength="43.6" lengthAdjust="spacingAndGlyphs">1.0000</text>
<path d="M1729.2 539.5 L1738.2 530.7 L1738.2 526.8 L1791.6 526.8 L1791.6 552.2 L1738.2 552.2 L1738.2 548.3 Z" fill="#00c878"/>
<text x="1742.4" y="544.9" font-family='"Liberation Sans", sans-serif' font-size="15.6" fill="#ffffff" stroke="#ffffff" stroke-width="0.4" textLength="43.6" lengthAdjust="spacingAndGlyphs">0.4341</text>
<path d="M1729.2 564.7 L1738.2 555.9 L1738.2 552.0 L1791.6 552.0 L1791.6 577.4 L1738.2 577.4 L1738.2 573.5 Z" fill="#d0021b"/>
<text x="1742.4" y="570.1" font-family='"Liberation Sans", sans-serif' font-size="15.6" fill="#ffffff" stroke="#ffffff" stroke-width="0.4" textLength="43.6" lengthAdjust="spacingAndGlyphs">0.4257</text>
<path d="M1729.2 599.6 L1738.2 590.8 L1738.2 586.9 L1791.6 586.9 L1791.6 612.3 L1738.2 612.3 L1738.2 608.4 Z" fill="#0dc80d"/>
<text x="1742.4" y="605.0" font-family='"Liberation Sans", sans-serif' font-size="15.6" fill="#ffffff" stroke="#ffffff" stroke-width="0.4" textLength="43.6" lengthAdjust="spacingAndGlyphs">0.2980</text>
<path d="M1729.2 649.8 L1738.2 641.0 L1738.2 637.1 L1791.6 637.1 L1791.6 662.5 L1738.2 662.5 L1738.2 658.6 Z" fill="#f5a623"/>
<text x="1742.4" y="655.2" font-family='"Liberation Sans", sans-serif' font-size="15.6" fill="#ffffff" stroke="#ffffff" stroke-width="0.4" textLength="43.6" lengthAdjust="spacingAndGlyphs">0.2377</text>
<path d="M1048.2 739.4 L1082.1 739.4 L1090.9 730.8 L1099.8 739.4 L1133.8 739.4 L1133.8 764.9 L1048.2 764.9 Z" fill="#00c878"/>
<text x="1052.4" y="757.7" font-family='"Liberation Sans", sans-serif' font-size="14.6" fill="#ffffff" stroke="#ffffff" stroke-width="0.45" textLength="76.8" lengthAdjust="spacingAndGlyphs">2d 10h 32m</text>
<circle cx="1040.5" cy="24.9" r="18.7" fill="#3c449e"/>
<path d="M1027.2 32.4 L1035.5 23.5 L1042.4 31.1 L1054 19.2 M1048.6 18.9 L1054.2 19 L1054.4 23.8" fill="none" stroke="#ffffff" stroke-width="1.6" stroke-linejoin="miter"/>
<text x="1066.2" y="29.6" font-family='"Liberation Sans", sans-serif' font-size="18.2" fill="#131722" textLength="277.6" lengthAdjust="spacingAndGlyphs">Charts powered by GoCharting.com</text>
<text x="1351.6" y="29.6" font-family='"Liberation Sans", sans-serif' font-size="18.2" fill="#131722">-</text>
<text x="1361.6" y="29.6" font-family='"Liberation Sans", sans-serif' font-size="18.2" fill="#131722" textLength="84.7" lengthAdjust="spacingAndGlyphs">Created by</text>
<text x="1457.6" y="29.6" font-family='"Liberation Sans", sans-serif' font-size="18.2" fill="#131722" textLength="142.2" lengthAdjust="spacingAndGlyphs">on Fri Apr 14 2023</text>
</svg>
</body></html>
